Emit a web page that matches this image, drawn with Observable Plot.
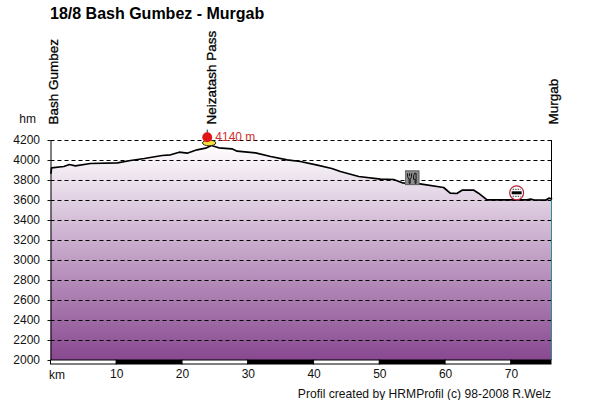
<!DOCTYPE html>
<html><head><meta charset="utf-8">
<style>
html,body{margin:0;padding:0;background:#fff;width:600px;height:400px;overflow:hidden}
#t{height:24px;font:bold 16px "Liberation Sans",sans-serif;padding-left:50px;line-height:27px;color:#000;box-sizing:border-box;white-space:nowrap}
#f{height:18px;font:12.1px "Liberation Sans",sans-serif;text-align:right;width:551px;line-height:24px;color:#111;white-space:nowrap}
svg{display:block}
</style>
<script src="https://cdn.jsdelivr.net/npm/d3@7"></script>
<script src="https://cdn.jsdelivr.net/npm/@observablehq/plot@0.6"></script>
</head><body>
<div id="t"></div><div id="c"></div><div id="f"></div>
<script>
const titleText = "18/8 Bash Gumbez - Murgab";
const footerText = "Profil created by HRMProfil (c) 98-2008 R.Welz";
const km = [0,0.08,1.95,2.8,3.7,6,10.1,12.1,14.2,16.9,18.2,19.5,20.7,22.2,23.5,24.4,25.5,27.5,28.3,31.1,33.4,35.9,37.9,40.5,42.7,44,46.8,50.1,52.1,53.4,56.1,59.7,60.7,61.7,62.5,64.3,65,66.3,72.4,72.9,73.4,75.2,75.7,76.1];
const ele = [3873,3927,3940,3960,3947,3970,3977,4000,4020,4050,4057,4083,4073,4107,4123,4150,4127,4117,4093,4077,4040,4007,3990,3953,3920,3890,3840,3813,3810,3777,3767,3730,3673,3670,3703,3703,3673,3607,3607,3613,3607,3603,3623,3617];
const yTicks = [2000,2200,2400,2600,2800,3000,3200,3400,3600,3800,4000,4200];
const kmTicks = [10,20,30,40,50,60,70];
const barStart = [0,10,20,30,40,50,60,70];
const barEnd = [10,20,30,40,50,60,70,76.1];
const barColor = ["#fff","#000","#fff","#000","#fff","#000","#fff","#000"];
const places = ["Bash Gumbez","Neizatash Pass","Murgab"];
const placeKm = [0,24,76.1];
const peakKm = [24], peakEle = [4233], peakLabel = ["4140 m"];
const profile = km.map((k,i)=>({k,e:ele[i]}));
const bars = barStart.map((s,i)=>({s,e:barEnd[i],c:barColor[i]}));
const placeRows = places.map((n,i)=>({n,k:placeKm[i]}));
const svgUri = s => "data:image/svg+xml," + encodeURIComponent(s);
const peakIcon = svgUri('<svg xmlns="http://www.w3.org/2000/svg" viewBox="0 0 18 20"><ellipse cx="10" cy="15" rx="7" ry="3" fill="#f4e23a" stroke="#222" stroke-width="1"/><path d="M8 1v4" stroke="#222"/><circle cx="8" cy="9" r="5.2" fill="#e01515"/></svg>');
const foodIcon = svgUri('<svg xmlns="http://www.w3.org/2000/svg" viewBox="0 0 15 15"><rect width="15" height="15" fill="#8d8d8d"/><rect x=".5" y=".5" width="14" height="14" fill="none" stroke="#555"/><path d="M3 3v3q0 2 1.6 2.4V13h1V8.400Q7 8 7 6V3M5 3v3M10 3q-1.500 2-1 6h1.500v4h1V3z" fill="none" stroke="#111" stroke-width="1"/></svg>');
const stopIcon = svgUri('<svg xmlns="http://www.w3.org/2000/svg" viewBox="0 0 16 16"><circle cx="8" cy="8" r="7" fill="#fff" stroke="#b5273a" stroke-width="1.200"/><rect x="3" y="6.500" width="10" height="3" fill="#000"/><path d="M4 4.500h8M4 11.500h8" stroke="#333" stroke-dasharray="1.500 1"/></svg>');
const icons = [
  {k:54.9,e:3827,src:foodIcon,s:15},
  {k:70.8,e:3677,src:stopIcon,s:16},
  {k:23.9,e:4223,src:peakIcon,s:19}
];
const font = '"Liberation Sans",sans-serif';
const defs = () => {
  const d = d3.create("svg:defs");
  const g = d.append("linearGradient").attr("id","pg").attr("x1",0).attr("y1",0).attr("x2",0).attr("y2",1);
  g.append("stop").attr("offset","0").attr("stop-color","#ffffff");
  g.append("stop").attr("offset","1").attr("stop-color","#884890");
  return d.node();
};
document.getElementById("t").textContent = titleText;
document.getElementById("f").textContent = footerText;
const chart = Plot.plot({
  width:600,height:358,marginLeft:50.5,marginRight:49,marginTop:116,marginBottom:22,
  style:{fontFamily:font,fontSize:"12px",color:"#111",background:"#fff",overflow:"visible"},
  x:{domain:[0,76.1]},
  y:{domain:[2000,4200]},
  marks:[
    defs,
    Plot.areaY(profile,{x:"k",y1:2000,y2:"e",fill:"url(#pg)"}),
    Plot.ruleY(yTicks.slice(1),{stroke:"#000",strokeWidth:1,strokeDasharray:"4,3"}),
    Plot.axisY({ticks:yTicks,tickSize:5,tickPadding:6,label:null,tickFormat:d=>String(d),fontSize:12,strokeDasharray:"3,2"}),
    Plot.axisX({ticks:kmTicks,tickSize:0,tickPadding:9,label:null,fontSize:12}),
    Plot.ruleX([0],{y1:2000,y2:4200,stroke:"#000"}),
    Plot.ruleX([76.1],{y1:2000,y2:3617,stroke:"#2f8f8f"}),
    Plot.ruleX([76.1],{y1:3617,y2:4200,stroke:"#000"}),
    Plot.rect(bars,{x1:"s",x2:"e",y1:1960,y2:2000,fill:"c",stroke:"#000",strokeWidth:1}),
    Plot.line(profile,{x:"k",y:"e",stroke:"#000",strokeWidth:1.7,curve:"linear"}),
    Plot.image(icons,{x:"k",y:"e",src:"src",width:"s",height:"s"}),
    Plot.text(peakLabel,{x:peakKm,y:peakEle,text:d=>d,dx:6.500,dy:0,textAnchor:"start",fill:"#cf2e2e",fontSize:12}),
    Plot.text(placeRows,{x:"k",y:4360,text:"n",rotate:-90,textAnchor:"start",dx:2.500,fontSize:13.500,fontWeight:"normal",fill:"#000",stroke:"#000",strokeWidth:0.3}),
    Plot.text(["km"],{x:[0],y:[2000],text:d=>d,textAnchor:"start",dx:-2,dy:15,fontSize:12}),
    Plot.text(["hm"],{x:[0],y:[4200],text:d=>d,textAnchor:"end",dx:-15,dy:-21,fontSize:12})
  ]
});
document.getElementById("c").appendChild(chart);
</script>
</body></html>
